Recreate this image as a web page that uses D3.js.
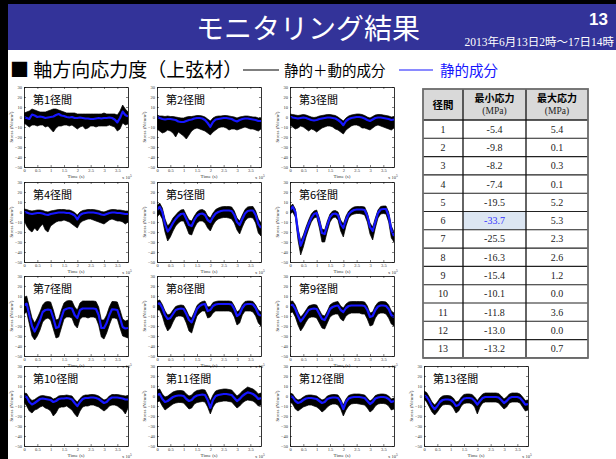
<!DOCTYPE html>
<html>
<head>
<meta charset="utf-8">
<script src="https://cdn.jsdelivr.net/npm/d3@7"></script>
<style>
  html, body { margin: 0; padding: 0; background: #fff; }
  svg { display: block; }
</style>
</head>
<body>
<svg id="slide" width="616" height="459"></svg>
<script>
// Sample times, in units of 10^5 s
const timeAxis = [0,0.1,0.2,0.3,0.4,0.5,0.6,0.7,0.8,0.9,1.0,1.1,1.2,1.3,1.4,1.5,1.6,1.7,1.8,1.9,
                  2.0,2.1,2.2,2.3,2.4,2.5,2.6,2.7,2.8,2.9,3.0,3.1,3.2,3.3,3.4,3.5,3.6,3.7,3.8,3.9];
const xTicks = [0,0.5,1,1.5,2,2.5,3,3.5];
const yTicks = [30,20,10,0,-10,-20,-30,-40,-50];

const spanNames = ["第1径間","第2径間","第3径間","第4径間","第5径間","第6径間","第7径間",
                   "第8径間","第9径間","第10径間","第11径間","第12径間","第13径間"];

// Static component (N/mm2)
const static1  = [0,-1,-2,2.5,1.5,0,0.5,0,-1,-0.5, 0,0.5,2,3,1.5,1,0,-0.5,0,-1, -1,-0.5,-1,-1.5,-1.5,-2,-2,-1.5,-1,-1.5, -1,-1,-0.5,-1,-2.5,-5.4,-1,5.4,2,0.5];
const static2  = [0.1,-1,-2,-2.5,-2,-2,-2.5,-3,-4.5,-5, -5,-4,-3,-2.5,-1.5,-1,-1,-1.5,-3,-6, -9.8,-5,-2.5,-2,-1.5,-1,-1,-1.5,-2,-3.5, -4.5,-3,-2,-1.5,-1.5,-2,-2.5,-3,-4,-4];
const static3  = [0.3,-0.5,-1,-1.5,-1,-0.5,-1,-2,-3,-3.5, -3,-2,-1.5,-1,-0.5,-0.5,-1,-1.5,-3,-5, -8.2,-4,-2,-1,-0.5,0,0,-0.5,-1.5,-3, -4,-2.5,-1,-0.5,-0.5,-1,-1.5,-2,-3,-2.5];
const static4  = [0.1,-0.5,-1.5,-2,-1.5,-1,-1,-1.5,-2.5,-3, -2,-1.5,-1,-0.5,-0.5,-0.5,-1,-1,-2,-3.5, -7.4,-3,-1.5,-1,-0.5,-0.5,-0.5,-1,-1.5,-2.5, -3,-2,-1,-0.5,-0.5,-1,-1,-1.5,-2,-2];
const static5  = [2,5.2,0,-12,-19.5,-16,-11,-7,-4,-2, -1.5,-7,-13,-14,-8,-4,-2,-1.5,-3,-8, -10,-5,-1.5,0,1,1.5,1.5,1.5,1,-3, -10,-13,-7,-1.5,1,1.5,1.5,-3,-12,-16];
const static6  = [2,5.3,0,-20,-33.7,-27,-19,-12,-6,-2, -1,-10,-21,-22,-13,-5,-2,-1.5,-3,-12, -16,-8,-2,0.5,2,2.5,2.5,2.5,2,-4, -15,-19,-10,-1,2.5,3,3,-4,-18,-24];
const static7  = [1,2.3,-9,-20,-25.5,-20,-14,-6,-4,-3.5, -4,-12,-22,-21,-12,-4,-2.7,-2,-2.5,-9, -12,-4,-2.5,-2.5,-2.5,-2.5,-2.5,-3,-9,-22, -22,-17,-9,-3.3,-3.5,-4,-12,-21,-22.5,-22];
const static8  = [2,2.6,-2,-9,-13,-12,-8,-4,-3,-2.5, -3,-8,-14,-16.3,-10,-3,0,1.5,2,-5, -4,0,1.5,2,2,2,2,2,1.5,-3, -10,-8,-2,1.5,2,2,1.5,-2,-8,-10];
const static9  = [0.5,1.2,-3,-10,-15.4,-12,-8,-4,-3,-2.5, -3,-8,-13,-14,-9,-3,-1,0,0.5,-4, -6,-2,0,0.5,0.5,0.5,0.5,0.5,0,-4, -11,-10,-4,-0.5,0.5,0.5,0,-3,-9,-11];
const static10 = [0,-1,-6,-8.5,-7,-5,-3,-2.5,-3,-3.5, -4,-6,-5,-3,-2.5,-2.5,-2,-2.5,-3.5,-7, -10.1,-6,-3,-2,-2,-1.5,-1.5,-2,-3,-5, -7,-6,-3,-1.5,-1.5,-1.5,-2,-2.5,-3.5,-3.5];
const static11 = [1,2,-3,-6,-5,-3,-1,0,0.5,0.5, 0,-3,-5,-4,-1,0.5,1,1.5,1,-4, -11.8,-4,0,1,1.5,2,2,1.5,1,-2, -5,-3,0,2,3.6,3,2,0,-3,-2];
const static12 = [0,-1,-5,-7,-6,-4,-2.5,-2,-2,-2.5, -3,-5,-7,-6,-3,-2,-1.5,-1.5,-2,-6, -13,-6,-2.5,-1.5,-1,-1,-1,-1.5,-2,-5, -8,-6,-2.5,-1.5,-1,-1,-1.5,-3,-6,-5];
const static13 = [0.7,-1,-5,-10,-13.2,-10,-6,-4,-3.5,-3.5, -4,-6,-10,-9,-5,-2.5,-2,-2,-2.5,-5, -8.6,-5,-2,-1,-1,-1,-1,-1,-1.5,-4, -7,-5,-2,-1,-1,-1,-2,-5,-8.6,-8];

// Static + dynamic component: upper envelope (N/mm2)
const envHigh1  = [4,5,6,8,7,6,5,5,5,6, 7,8,8,7,6,5,4,4,4,4, 3,3,3,3,3,3,3,3,3,3, 4,3,3,3,3,2,6,12,8,5];
const envHigh2  = [2,1,1,0.5,1,0.5,0.5,0,-0.5,-1, -1,0,0.5,0.5,1,1.5,1.5,1,0,-2, -4,-1,0.5,1,1,1.5,1.5,1,0.5,0, -1,0,0.5,1,1,0.5,0,0,-1,-1];
const envHigh3  = [3,2.5,2,1.5,2,2.5,2,1,0,-0.5, 0,1,1.5,2,2.5,2.5,2,1.5,0,-2, -4,-1,1,2,2.5,3,3,2.5,1.5,0, -1,0.5,2,2.5,2.5,2,1.5,1,0,0.5];
const envHigh4  = [3,2.5,1.5,1,1.5,2,2,1.5,0.5,0, 1,1.5,2,2.5,2.5,2.5,2,2,1,-0.5, -3,0,1.5,2,2.5,2.5,2.5,2,1.5,0.5, 0,1,2,2.5,2.5,2,2,1.5,1,1];
const envHigh5  = [6,9,4,-7,-14,-11,-6,-3,0,2, 2.5,-3,-8,-9,-4,0,2,2.5,1,-4, -6,-1,2.5,4,5,5.5,5.5,5.5,5,1, -6,-9,-3,2.5,5,5.5,5.5,1,-7,-11];
const envHigh6  = [5,8,3,-16,-29,-23,-15,-8,-2,1, 2,-6,-17,-18,-9,-2,1,1.5,0,-8, -12,-4,1,3.5,5,5.5,5.5,5.5,5,-1, -11,-15,-6,2,5.5,6,6,0,-14,-20];
const envHigh7  = [8,10,-1,-12,-17,-12,-6,1,4,4.5, 4,-4,-14,-13,-4,3,5,5.5,5,-1, -4,3,5,5,5,5,5,4.5,-1,-14, -14,-9,-1,4.5,4.5,4,-4,-13,-15,-14];
const envHigh8  = [5,6,1.5,-5,-9,-8,-4,-0.5,0.5,1, 0.5,-4,-10,-12,-6,0.5,3,4.5,5,-1, -0.5,3.5,4.5,5,5,5,5,5,4.5,0, -6,-4,1.5,4.5,5,5,4.5,1,-4,-6];
const envHigh9  = [4.5,5,1,-6,-11,-8,-4,0,1,1.5, 1,-4,-9,-10,-5,1,3,4,4.5,0, -2,2,4,4.5,4.5,4.5,4.5,4.5,4,0, -7,-6,0,3.5,4.5,4.5,4,1,-5,-7];
const envHigh10 = [3,2.5,-2,-4.5,-3.5,-1.5,0,0.5,0,-0.5, -1,-3,-2,0,0.5,0.5,1,0.5,0,-3.5, -6,-2.5,0,1,1,1.5,1.5,1,0,-2, -4,-3,0,1.5,1.5,1.5,1,0.5,0,0.5];
const envHigh11 = [6,7,2,-1,0,2,4,5,5.5,5.5, 5,2,0,1,4,5.5,6,6.5,6,1, -5,1,5,6,6.5,7,7,6.5,6,3, 0,2,5,7,9,8,7,5,2,3];
const envHigh12 = [3,2,-2,-4,-3,-1,0.5,1,1,0.5, 0,-2,-4,-3,0,1,1.5,1.5,1,-3, -9,-3,0.5,1.5,2,2,2,1.5,1,-2, -5,-3,0.5,1.5,2,2,1.5,0,-3,-2];
const envHigh13 = [5,3.5,-1,-6,-9,-6,-2,0,0.5,0.5, 0,-2,-6,-5,-1,1.5,2,2,1.5,-1, -4.5,-1,2,3,3,3,3,3,2.5,0, -3,-1,2,3,3,3,2,-1,-4.5,-4];

// Static + dynamic component: lower envelope (N/mm2)
const envLow1  = [-6,-8,-10,-8,-8,-9,-8,-8,-10,-9, -12,-15,-11,-9,-9,-8,-8,-9,-8,-10, -12,-10,-9,-12,-11,-9,-9,-10,-9,-9, -9,-9,-8,-9,-10,-14,-12,-6,-8,-7];
const envLow2  = [-12,-14,-16,-15,-13,-14,-16,-20,-15,-17, -19,-22,-18,-14,-12,-11,-12,-13,-14,-16, -18,-15,-13,-11,-10,-10,-11,-13,-12,-12, -13,-12,-11,-10,-11,-12,-12,-13,-14,-12];
const envLow3  = [-8,-10,-12,-11,-9,-10,-12,-14,-12,-13, -15,-13,-11,-10,-9,-9,-10,-12,-13,-15, -17,-13,-11,-9,-8,-8,-9,-11,-11,-12, -13,-11,-9,-8,-9,-10,-11,-12,-13,-11];
const envLow4  = [-8,-14,-18,-20,-16,-19,-15,-12,-18,-20, -14,-12,-10,-9,-9,-8,-9,-10,-12,-14, -16,-11,-9,-8,-7,-7,-8,-9,-10,-11, -12,-10,-8,-7,-8,-9,-9,-10,-12,-10];
const envLow5  = [-5,-2,-7,-20,-29,-25,-19,-14,-11,-9, -9,-15,-22,-23,-16,-11,-9,-9,-11,-16, -19,-13,-9,-7,-6,-5.5,-5.5,-6,-7,-11, -18,-22,-15,-9,-6,-5.5,-6,-11,-21,-24];
const envLow6  = [-2,0,-5,-28,-43,-35,-25,-17,-10,-6, -5,-16,-30,-30,-19,-10,-6,-5,-8,-19, -25,-14,-6,-3,-2,-1.5,-1.5,-2,-3,-10, -22,-28,-16,-6,-2,-1.5,-2,-10,-26,-30];
const envLow7  = [-8,-6,-18,-30,-34,-30,-24,-16,-13,-12, -14,-23,-32,-31,-22,-13,-11,-11,-12,-19, -22,-13,-11,-11,-12,-11,-11,-12,-19,-31, -33,-27,-19,-12,-12,-13,-22,-30,-31,-32];
const envLow8  = [-4,-4,-10,-19,-25,-22,-16,-11,-10,-10, -11,-17,-25,-27,-18,-10,-7,-5,-5,-12, -11,-7,-5,-5,-5,-5,-5,-5,-6,-11, -19,-17,-9,-5,-5,-5,-6,-10,-17,-20];
const envLow9  = [-7,-6,-11,-19,-25,-21,-16,-12,-11,-11, -12,-17,-22,-23,-17,-11,-9,-8,-8,-13, -15,-10,-8,-7,-7,-7,-7,-8,-8,-13, -20,-19,-12,-8,-7,-7,-8,-12,-18,-20];
const envLow10 = [-6,-10,-15,-17,-14,-13,-11,-10,-12,-13, -15,-20,-17,-12,-11,-11,-10,-12,-14,-18, -21,-15,-11,-10,-10,-9,-9,-10,-11,-13, -15,-13,-10,-9,-9,-10,-12,-14,-18,-12];
const envLow11 = [-6,-5,-10,-14,-12,-10,-8,-7,-6.5,-6.5, -7,-10,-13,-12,-8,-6.5,-6,-5.5,-6,-11, -18,-11,-7,-6,-5.5,-5,-5,-5.5,-6,-9, -12,-10,-7,-5,-4,-4.5,-5,-7,-10,-9];
const envLow12 = [-6,-8,-13,-15,-13,-11,-10,-9,-9,-10, -11,-13,-16,-14,-11,-9,-8,-8,-9,-13, -20,-14,-10,-8,-7.5,-7.5,-8,-8.5,-9,-12, -16,-14,-10,-8,-7.5,-7.5,-8,-10,-14,-13];
const envLow13 = [-3,-6,-11,-16,-19,-16,-12,-9,-8.5,-8.5, -9,-12,-17,-15,-10,-7.5,-7,-7,-8,-11, -18,-11,-7,-6,-6,-6,-6,-6,-7,-10, -13,-11,-7,-6,-6,-6,-7,-11,-15,-14];

// Summary table
const spanNumbers = [1,2,3,4,5,6,7,8,9,10,11,12,13];
const minStress = [-5.4,-9.8,-8.2,-7.4,-19.5,-33.7,-25.5,-16.3,-15.4,-10.1,-11.8,-13.0,-13.2];
const maxStress = [5.4,0.1,0.3,0.1,5.2,5.3,2.3,2.6,1.2,0.0,3.6,0.0,0.7];

const staticSeries = [static1,static2,static3,static4,static5,static6,static7,static8,static9,static10,static11,static12,static13];
const highSeries = [envHigh1,envHigh2,envHigh3,envHigh4,envHigh5,envHigh6,envHigh7,envHigh8,envHigh9,envHigh10,envHigh11,envHigh12,envHigh13];
const lowSeries = [envLow1,envLow2,envLow3,envLow4,envLow5,envLow6,envLow7,envLow8,envLow9,envLow10,envLow11,envLow12,envLow13];

const svg = d3.select("#slide");
const CJK = "'Noto Sans CJK JP', 'Noto Sans', sans-serif";
const SERIF = "'Liberation Serif', 'DejaVu Serif', serif";
const BLUE = "#1616ff";

// ---- slide frame and header ----
svg.append("rect").attr("x", 0).attr("y", 0).attr("width", 616).attr("height", 459).attr("fill", "#fff");
svg.append("rect").attr("x", 0).attr("y", 0).attr("width", 616).attr("height", 50).attr("fill", "#333399");
svg.append("rect").attr("x", 0).attr("y", 0).attr("width", 616).attr("height", 4).attr("fill", "#000");
svg.append("rect").attr("x", 0).attr("y", 0).attr("width", 8).attr("height", 459).attr("fill", "#000");

svg.append("text").attr("x", 308).attr("y", 39)
  .attr("text-anchor", "middle").attr("fill", "#fff")
  .style("font-family", CJK).style("font-size", "28px")
  .text("モニタリング結果");
svg.append("text").attr("x", 608).attr("y", 25)
  .attr("text-anchor", "end").attr("fill", "#fff")
  .style("font-family", "'Liberation Sans', Arial, sans-serif").style("font-size", "17px").style("font-weight", "bold")
  .text("13");
svg.append("text").attr("x", 614).attr("y", 46)
  .attr("text-anchor", "end").attr("fill", "#fff")
  .style("font-family", "'Liberation Serif', 'Noto Sans CJK JP', serif").style("font-size", "11.5px")
  .text("2013年6月13日2時～17日14時");

// ---- subtitle with legend ----
svg.append("text").attr("x", 10).attr("y", 77)
  .style("font-family", CJK).style("font-size", "19px").attr("fill", "#000")
  .text("■ 軸方向応力度（上弦材）");
svg.append("line").attr("x1", 243).attr("x2", 279).attr("y1", 70).attr("y2", 70)
  .attr("stroke", "#000").attr("stroke-width", 1.2);
svg.append("text").attr("x", 284).attr("y", 76)
  .style("font-family", CJK).style("font-size", "14.5px").attr("fill", "#000")
  .text("静的＋動的成分");
svg.append("line").attr("x1", 399).attr("x2", 433).attr("y1", 70).attr("y2", 70)
  .attr("stroke", BLUE).attr("stroke-width", 1.2);
svg.append("text").attr("x", 440).attr("y", 76)
  .style("font-family", CJK).style("font-size", "14.5px").attr("fill", BLUE)
  .text("静的成分");

// ---- small-multiple time series ----
const colLeft = [24, 157, 290, 424];
const rowTop = [87, 182, 276, 366];
const panelW = 104, panelH = 80;

spanNames.forEach((name, i) => {
  const row = Math.min(Math.floor(i / 3), 3);
  const col = i < 9 ? i % 3 : i - 9;
  const left = colLeft[col], top = rowTop[row];

  const x = d3.scaleLinear().domain([0, 3.9]).range([left, left + panelW]);
  const y = d3.scaleLinear().domain([-50, 30]).range([top + panelH, top]);

  const g = svg.append("g").attr("class", "span-panel");
  const clipId = "clip" + i;
  svg.append("clipPath").attr("id", clipId)
    .append("rect").attr("x", left).attr("y", top).attr("width", panelW).attr("height", panelH);

  const rows = timeAxis.map((t, k) => ({ t, s: staticSeries[i][k], hi: highSeries[i][k], lo: lowSeries[i][k] }));

  const plot = g.append("g").attr("clip-path", `url(#${clipId})`);
  plot.append("path").datum(rows)
    .attr("d", d3.area().x(d => x(d.t)).y0(d => y(d.lo)).y1(d => y(d.hi)))
    .attr("fill", "#000").attr("stroke", "#000").attr("stroke-width", 0.7).attr("stroke-linejoin", "miter");
  plot.append("path").datum(rows)
    .attr("d", d3.line().x(d => x(d.t)).y(d => y(d.s)))
    .attr("fill", "none").attr("stroke", BLUE).attr("stroke-width", 2.2).attr("stroke-linejoin", "round");

  // box with inward ticks on every side
  const styleAxis = sel => {
    sel.selectAll("path.domain").attr("stroke", "#000").attr("stroke-width", 0.8);
    sel.selectAll(".tick line").attr("stroke", "#000").attr("stroke-width", 0.5);
    sel.selectAll(".tick text").style("font-family", SERIF).style("font-size", "4.5px").attr("fill", "#333");
  };
  g.append("g").attr("transform", `translate(${left},0)`)
    .call(d3.axisLeft(y).tickValues(yTicks).tickSizeInner(-2).tickSizeOuter(0).tickPadding(2).tickFormat(d3.format("d")))
    .call(styleAxis);
  g.append("g").attr("transform", `translate(${left + panelW},0)`)
    .call(d3.axisRight(y).tickValues(yTicks).tickSizeInner(-2).tickSizeOuter(0).tickFormat(""))
    .call(styleAxis);
  g.append("g").attr("transform", `translate(0,${top + panelH})`)
    .call(d3.axisBottom(x).tickValues(xTicks).tickSizeInner(-2).tickSizeOuter(0).tickPadding(2).tickFormat(d3.format("")))
    .call(styleAxis);
  g.append("g").attr("transform", `translate(0,${top})`)
    .call(d3.axisTop(x).tickValues(xTicks).tickSizeInner(-2).tickSizeOuter(0).tickFormat(""))
    .call(styleAxis);

  // axis titles
  g.append("text").attr("x", left + panelW / 2).attr("y", top + panelH + 11)
    .attr("text-anchor", "middle").attr("fill", "#333")
    .style("font-family", SERIF).style("font-size", "5px").text("Time (s)");
  const mult = g.append("text").attr("x", left + panelW - 6).attr("y", top + panelH + 11.5)
    .attr("fill", "#333").style("font-family", SERIF).style("font-size", "4.5px");
  mult.append("tspan").text("x 10");
  mult.append("tspan").attr("dy", -2).style("font-size", "3.5px").text("5");

  const ylab = g.append("text")
    .attr("transform", `translate(${left - 11},${top + panelH / 2}) rotate(-90)`)
    .attr("text-anchor", "middle").attr("fill", "#333")
    .style("font-family", SERIF).style("font-size", "5px");
  ylab.append("tspan").text("Stress (N/mm");
  ylab.append("tspan").attr("dy", -1.5).style("font-size", "3.5px").text("2");
  ylab.append("tspan").attr("dy", 1.5).text(")");

  g.append("text").attr("x", left + 9).attr("y", top + 17)
    .style("font-family", CJK).style("font-size", "11px").attr("fill", "#000")
    .text(name);
});

// ---- summary table ----
const tbl = svg.append("g").attr("class", "summary");
const colX = [423, 463, 526, 588];
const headTop = 89, headH = 31, rowH = 18.3;
const bodyTop = headTop + headH;
const tableBottom = bodyTop + rowH * spanNumbers.length;

tbl.append("rect").attr("x", colX[0]).attr("y", headTop)
  .attr("width", colX[3] - colX[0]).attr("height", headH).attr("fill", "#d9d9d9");
tbl.append("rect").attr("x", colX[1]).attr("y", bodyTop + rowH * 5)
  .attr("width", colX[2] - colX[1]).attr("height", rowH).attr("fill", "#dce6f2");

const headCenters = colX.slice(0, 3).map((cx, k) => (cx + colX[k + 1]) / 2);
tbl.append("text").attr("x", headCenters[0]).attr("y", headTop + 20)
  .attr("text-anchor", "middle").style("font-family", CJK).style("font-size", "10.5px").style("font-weight", "bold")
  .text("径間");
["最小応力", "最大応力"].forEach((h, k) => {
  tbl.append("text").attr("x", headCenters[k + 1]).attr("y", headTop + 13)
    .attr("text-anchor", "middle").style("font-family", CJK).style("font-size", "10px").style("font-weight", "bold")
    .text(h);
  tbl.append("text").attr("x", headCenters[k + 1]).attr("y", headTop + 25)
    .attr("text-anchor", "middle").style("font-family", SERIF).style("font-size", "9.5px").attr("fill", "#222")
    .text("(MPa)");
});

spanNumbers.forEach((n, r) => {
  const cy = bodyTop + rowH * r + rowH / 2 + 3.5;
  const cells = [String(n), minStress[r].toFixed(1), maxStress[r].toFixed(1)];
  cells.forEach((txt, k) => {
    tbl.append("text").attr("x", headCenters[k]).attr("y", cy)
      .attr("text-anchor", "middle").style("font-family", SERIF).style("font-size", "10px")
      .attr("fill", (r === 5 && k === 1) ? "#3333ff" : "#222")
      .text(txt);
  });
});

// grid lines
d3.range(spanNumbers.length + 1).forEach(r => {
  const yy = bodyTop + rowH * r;
  tbl.append("line").attr("x1", colX[0]).attr("x2", colX[3]).attr("y1", yy).attr("y2", yy)
    .attr("stroke", "#222").attr("stroke-width", r === 0 ? 1.6 : 1.1);
});
[colX[1], colX[2]].forEach(cx => {
  tbl.append("line").attr("x1", cx).attr("x2", cx).attr("y1", headTop).attr("y2", tableBottom)
    .attr("stroke", "#111").attr("stroke-width", 1.3);
});
tbl.append("rect").attr("x", colX[0]).attr("y", headTop)
  .attr("width", colX[3] - colX[0]).attr("height", tableBottom - headTop)
  .attr("fill", "none").attr("stroke", "#6b6b6b").attr("stroke-width", 1.8);
</script>
</body>
</html>
